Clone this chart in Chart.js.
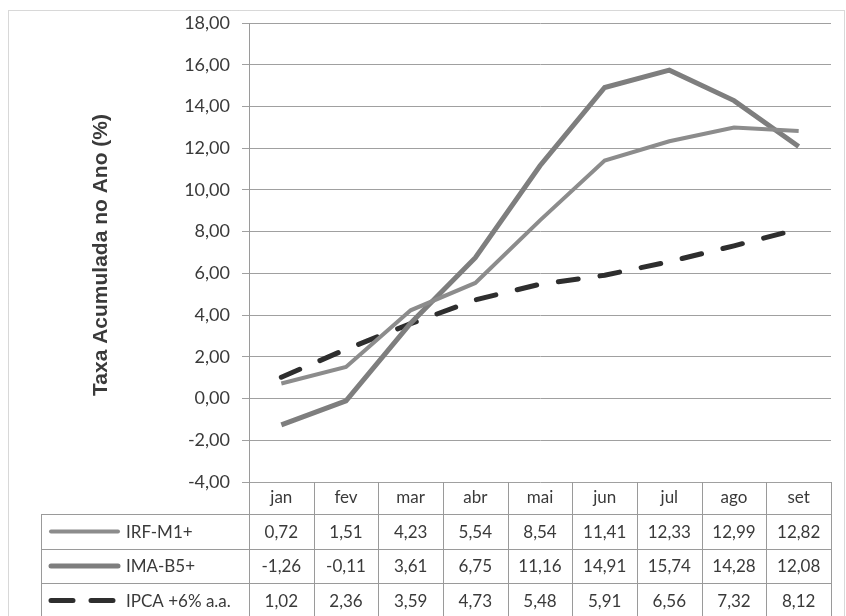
<!DOCTYPE html>
<html>
<head>
<meta charset="utf-8">
<script src="https://cdn.jsdelivr.net/npm/chart.js@4.4.1/dist/chart.umd.min.js"></script>
<style>
  html, body { margin: 0; padding: 0; background: #fff; }
  #wrap { width: 846px; height: 616px; position: relative; }
</style>
</head>
<body>
<div id="wrap"><canvas id="chart"></canvas></div>
<script>
// ============================================
// Data
// ============================================
const months = ['jan', 'fev', 'mar', 'abr', 'mai', 'jun', 'jul', 'ago', 'set'];
const irfM1 = [0.72, 1.51, 4.23, 5.54, 8.54, 11.41, 12.33, 12.99, 12.82];
const imaB5 = [-1.26, -0.11, 3.61, 6.75, 11.16, 14.91, 15.74, 14.28, 12.08];
const ipca6 = [1.02, 2.36, 3.59, 4.73, 5.48, 5.91, 6.56, 7.32, 8.12];
const seriesNames = ['IRF-M1+', 'IMA-B5+', 'IPCA +6% a.a.'];
const yTitle = 'Taxa Acumulada no Ano (%)';

const FONT = 'Lato, "Open Sans", sans-serif';
const fmt = (v) => v.toFixed(2).replace('.', ',');

// ============================================
// Data table + frame plugin
// ============================================
const tablePlugin = {
  id: 'dataTable',
  afterDraw(chart) {
    const ctx = chart.ctx;
    const x = chart.scales.x;
    const area = chart.chartArea;
    const colW = (area.right - area.left) / months.length;
    const rowTop = area.bottom;
    const rows = [rowTop, rowTop + 32, rowTop + 67, rowTop + 101, rowTop + 136];
    const legendLeft = 41;

    ctx.save();
    ctx.strokeStyle = '#9a9a9a';
    ctx.lineWidth = 1;

    // horizontal lines
    ctx.beginPath();
    for (let r = 1; r < rows.length; r++) {
      ctx.moveTo(legendLeft, rows[r] + 0.5);
      ctx.lineTo(area.right, rows[r] + 0.5);
    }
    // vertical lines
    for (let i = 0; i <= months.length; i++) {
      const px = Math.round(area.left + i * colW) + 0.5;
      ctx.moveTo(px, rowTop);
      ctx.lineTo(px, rows[rows.length - 1]);
    }
    ctx.moveTo(legendLeft + 0.5, rows[1]);
    ctx.lineTo(legendLeft + 0.5, rows[rows.length - 1]);
    ctx.stroke();

    // text
    ctx.fillStyle = '#3a3a3a';
    ctx.font = '17px ' + FONT;
    ctx.textAlign = 'center';
    ctx.textBaseline = 'middle';
    months.forEach((m, i) => {
      ctx.fillText(m, x.getPixelForValue(i), (rows[0] + rows[1]) / 2);
    });
    const values = [irfM1, imaB5, ipca6];
    values.forEach((arr, r) => {
      const cy = (rows[r + 1] + rows[r + 2]) / 2;
      arr.forEach((v, i) => {
        ctx.fillText(fmt(v), x.getPixelForValue(i), cy + 1);
      });
      // legend key
      const ds = chart.data.datasets[r];
      ctx.save();
      ctx.strokeStyle = ds.borderColor;
      ctx.lineWidth = ds.borderWidth;
      ctx.lineCap = 'round';
      if (ds.borderDash) ctx.setLineDash([22, 18]);
      ctx.beginPath();
      ctx.moveTo(51, cy);
      ctx.lineTo(ds.borderDash ? 114 : 118, cy);
      ctx.stroke();
      ctx.restore();
      ctx.textAlign = 'left';
      ctx.fillText(seriesNames[r], 126, cy + 1);
      ctx.textAlign = 'center';
    });

    // y axis title
    ctx.save();
    ctx.translate(101, 255);
    ctx.rotate(-Math.PI / 2);
    ctx.font = 'bold 21px "Liberation Sans", Arial, sans-serif';
    ctx.fillStyle = '#3a3a3a';
    ctx.fillText(yTitle, 0, 0);
    ctx.restore();

    // outer frame
    ctx.strokeStyle = '#b0b0b0';
    ctx.setLineDash([1, 1]);
    ctx.strokeRect(8.5, 10.5, 836, 620);
    ctx.restore();
  }
};

// ============================================
// Chart
// ============================================
new Chart(document.getElementById('chart'), {
  type: 'line',
  data: {
    labels: months,
    datasets: [
      {
        label: seriesNames[0],
        data: irfM1,
        borderColor: '#8c8c8c',
        borderWidth: 4,
        pointRadius: 0,
        tension: 0
      },
      {
        label: seriesNames[1],
        data: imaB5,
        borderColor: '#7e7e7e',
        borderWidth: 5,
        pointRadius: 0,
        tension: 0
      },
      {
        label: seriesNames[2],
        data: ipca6,
        borderColor: '#2e2e2e',
        borderWidth: 5,
        borderDash: [20, 22],
        borderCapStyle: 'round',
        pointRadius: 0,
        tension: 0
      }
    ]
  },
  options: {
    responsive: true,
    maintainAspectRatio: false,
    animation: false,
    layout: { padding: { left: 8, top: 23, right: 15, bottom: 134 } },
    plugins: {
      legend: { display: false },
      tooltip: { enabled: false }
    },
    scales: {
      x: {
        display: false,
        offset: true
      },
      y: {
        min: -4,
        max: 18,
        afterFit: (scale) => { scale.width = 241; },
        ticks: {
          stepSize: 2,
          color: '#3a3a3a',
          font: { family: FONT, size: 18 },
          padding: 12,
          callback: (v) => fmt(v)
        },
        grid: {
          color: '#a0a0a0',
          lineWidth: 1,
          tickLength: 7
        },
        border: { display: true, color: '#9a9a9a', width: 1 }
      }
    }
  },
  plugins: [tablePlugin]
});
</script>
</body>
</html>
